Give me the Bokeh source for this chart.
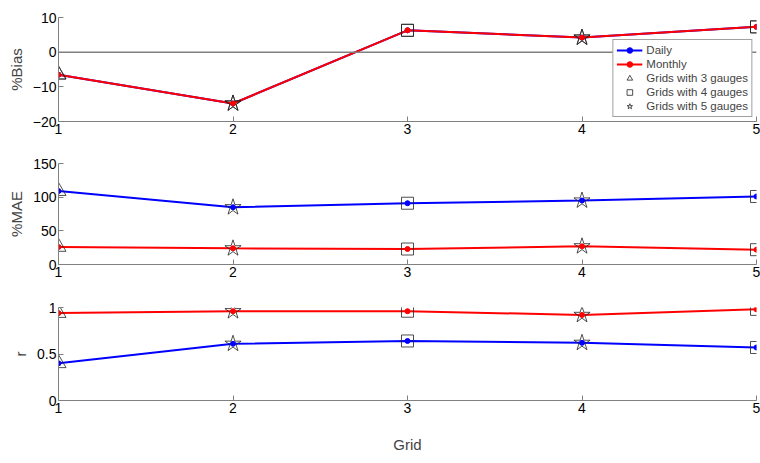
from bokeh.plotting import figure
from bokeh.models import ColumnDataSource, FixedTicker, Span, Legend, LegendItem
from bokeh.layouts import column
from bokeh.embed import file_html
from bokeh.resources import INLINE

grid = [1, 2, 3, 4, 5]
markers = ["triangle", "star", "square", "star", "square"]

bias_daily = [-6.5, -14.8, 6.3, 4.2, 7.3]
bias_monthly = [-6.5, -14.8, 6.3, 4.2, 7.3]
mae_daily = [109, 85, 91, 95, 101]
mae_monthly = [26, 24, 23, 27, 22]
r_daily = [0.40, 0.61, 0.64, 0.62, 0.57]
r_monthly = [0.94, 0.96, 0.96, 0.92, 0.98]

FONT = "Liberation Sans"
marker_size = {"triangle": 15, "square": 12, "star": 17}
marker_label = {"triangle": "Grids with 3 gauges", "square": "Grids with 4 gauges",
                "star": "Grids with 5 gauges"}


def panel(daily, monthly, yrange, yticks, ylabel, height, top, bottom, xlabel=None):
    p = figure(width=760, height=height, x_range=(1, 5), y_range=yrange,
               output_backend="svg", toolbar_location=None,
               min_border_left=58, min_border_right=4,
               min_border_top=top, min_border_bottom=bottom)
    p.outline_line_color = None
    p.grid.visible = False
    p.yaxis.ticker = FixedTicker(ticks=yticks)
    p.xaxis.ticker = FixedTicker(ticks=grid)
    for ax in (p.xaxis, p.yaxis):
        ax.axis_line_color = "#808080"
        ax.major_tick_line_color = "#808080"
        ax.major_tick_in = 5
        ax.major_tick_out = 0
        ax.minor_tick_line_color = None
        ax.major_label_text_font = FONT
        ax.major_label_text_font_size = "14px"
        ax.major_label_text_color = "black"
        ax.axis_label_text_font = FONT
        ax.axis_label_text_font_size = "15px"
        ax.axis_label_text_font_style = "normal"
    p.xaxis.major_label_standoff = 2
    p.yaxis.major_label_standoff = 2
    p.yaxis.axis_label = ylabel
    if xlabel:
        p.xaxis.axis_label = xlabel
        p.xaxis.axis_label_standoff = 20

    rends = {}
    for name, vals, color in (("Daily", daily, "blue"), ("Monthly", monthly, "red")):
        src = ColumnDataSource(data={"x": grid, "y": vals})
        ln = p.line("x", "y", source=src, line_color=color, line_width=2)
        dt = p.scatter("x", "y", source=src, size=5, color=color)
        rends[name] = [ln, dt]
    for m in ("triangle", "square", "star"):
        idx = [i for i, mm in enumerate(markers) if mm == m]
        rs = []
        for vals in (daily, monthly):
            src = ColumnDataSource(data={"x": [grid[i] for i in idx], "y": [vals[i] for i in idx]})
            rs.append(p.scatter("x", "y", source=src, marker=m, size=marker_size[m],
                                fill_color=None, line_color="#222222", line_width=0.8))
        rends[m] = rs
    return p, rends


p1, r1 = panel(bias_daily, bias_monthly, (-20, 10), [-20, -10, 0, 10], "%Bias", 149, 17, 28)
p1.add_layout(Span(location=0, dimension="width", line_color="#808080", line_width=1.5))
items = [LegendItem(label="Daily", renderers=r1["Daily"]),
         LegendItem(label="Monthly", renderers=r1["Monthly"])]
for m in ("triangle", "square", "star"):
    items.append(LegendItem(label=marker_label[m], renderers=[r1[m][0]]))
leg = Legend(items=items, location="bottom_right", margin=4, padding=3, spacing=0,
             glyph_height=14, glyph_width=26, label_height=12, label_standoff=4,
             label_text_font=FONT, label_text_font_size="11.5px",
             border_line_color="#444444", background_fill_alpha=1)
p1.add_layout(leg)

p2, _ = panel(mae_daily, mae_monthly, (0, 150), [0, 50, 100, 150], "%MAE", 140, 14, 25)
p3, _ = panel(r_daily, r_monthly, (0, 1), [0, 0.5, 1], "r", 166, 18, 45, xlabel="Grid")

layout = column(p1, p2, p3, spacing=0)
open("out.html", "w").write(file_html(layout, INLINE))
